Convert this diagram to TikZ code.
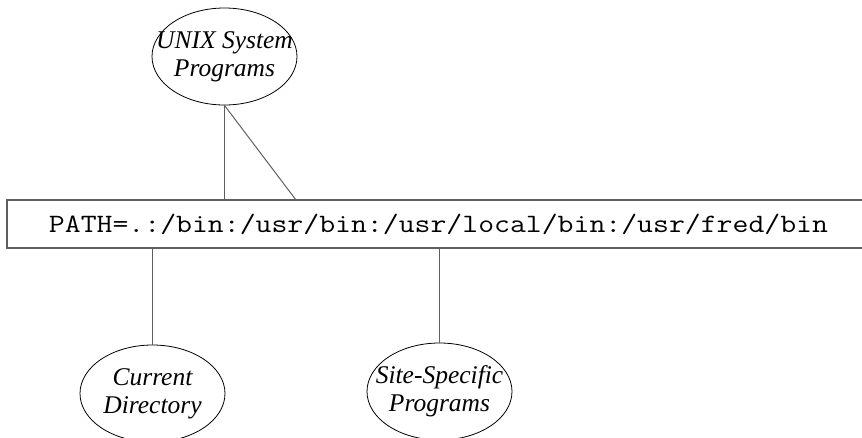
\documentclass[tikz,border=0pt]{standalone}
\usepackage{fontspec}
\setmainfont{Liberation Serif}
\usetikzlibrary{shapes.geometric}
\definecolor{linegray}{RGB}{95,95,95}
\tikzset{
  progshape/.style={draw, ellipse, line width=0.8pt, inner sep=0pt, minimum width=145pt, minimum height=97pt},
  progtext/.style={inner sep=0pt, align=center, font=\fontsize{25.5}{28}\selectfont\itshape},
  pathbox/.style={draw=linegray, line width=1.2pt, minimum width=863pt, minimum height=48pt, inner sep=0pt,
    font=\fontsize{26.5}{30}\selectfont\ttfamily}
}
\tikzset{link/.style={draw=linegray, line width=1pt}}
\begin{document}
\begin{tikzpicture}[x=1pt,y=1pt,yscale=-1]
\useasboundingbox (0,0) rectangle (862,437);
\clip (0,0) rectangle (862,437);

%Shape: Ellipse
\node [progshape] (unix) at (224.5,56.5) {};
%Shape: Ellipse
\node [progshape] (cur) at (152.5,393.5) {};
%Shape: Ellipse
\node [progshape] (site) at (439.5,391.5) {};
%Shape: Rectangle
\node [pathbox] (path) at (438.5,224) {\scalebox{1.165}[1]{PATH=.:/bin:/usr/bin:/usr/local/bin:/usr/fred/bin}};

% Text Node
\node [progtext] (unixtxt) at (unix) {UNIX System\\Programs};
% Text Node
\node [progtext] (curtxt) at (cur) {Current\\Directory};
% Text Node
\node [progtext] (sitetxt) at (site) {Site-Specific\\Programs};

%Straight Lines
\coordinate (slant) at (296,200);
\draw [link] (unix.south) -- (unix.south |- path.north);
\draw [link] (unix.south) -- (slant);
\draw [link] (cur.north) -- (cur.north |- path.south);
\draw [link] (site.north) -- (site.north |- path.south);

\end{tikzpicture}
\end{document}
